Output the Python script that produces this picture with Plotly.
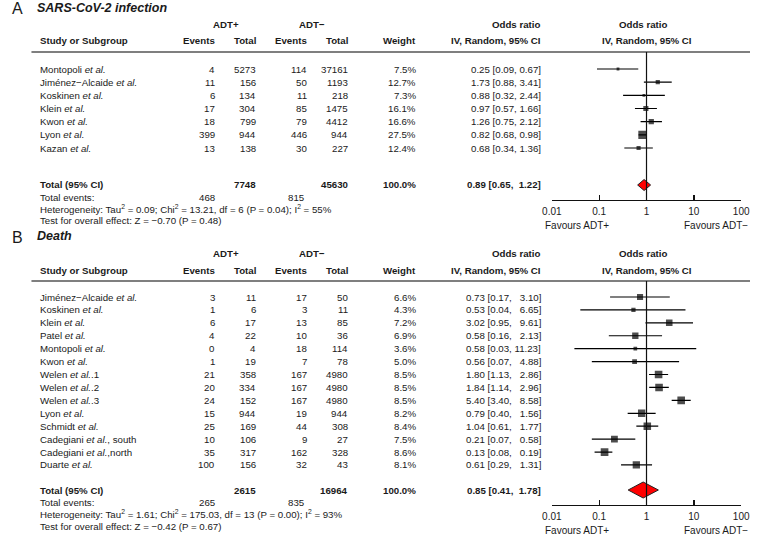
import plotly.graph_objects as go

W, H = 759, 560

# ---------------- Data: Panel A (SARS-CoV-2 infection) ----------------
studies_A = ["Montopoli <i>et al.</i>", "Jiménez−Alcaide <i>et al.</i>", "Koskinen <i>et al.</i>",
             "Klein <i>et al.</i>", "Kwon <i>et al.</i>", "Lyon <i>et al.</i>", "Kazan <i>et al.</i>"]
ev_pos_A = [4, 11, 6, 17, 18, 399, 13]
tot_pos_A = [5273, 156, 134, 304, 799, 944, 138]
ev_neg_A = [114, 50, 11, 85, 79, 446, 30]
tot_neg_A = [37161, 1193, 218, 1475, 4412, 944, 227]
weight_A = [7.5, 12.7, 7.3, 16.1, 16.6, 27.5, 12.4]
or_A = [0.25, 1.73, 0.88, 0.97, 1.26, 0.82, 0.68]
lo_A = [0.09, 0.88, 0.32, 0.57, 0.75, 0.68, 0.34]
hi_A = [0.67, 3.41, 2.44, 1.66, 2.12, 0.98, 1.36]
total_A = {"ev_pos": 468, "tot_pos": 7748, "ev_neg": 815, "tot_neg": 45630,
           "or": 0.89, "lo": 0.65, "hi": 1.22}
het_A = "Heterogeneity: Tau<sup>2</sup> = 0.09; Chi<sup>2</sup> = 13.21, df = 6 (P = 0.04); I<sup>2</sup> = 55%"
test_A = "Test for overall effect: Z = −0.70 (P = 0.48)"

# ---------------- Data: Panel B (Death) ----------------
studies_B = ["Jiménez−Alcaide <i>et al.</i>", "Koskinen <i>et al.</i>", "Klein <i>et al.</i>",
             "Patel <i>et al.</i>", "Montopoli <i>et al.</i>", "Kwon <i>et al.</i>",
             "Welen <i>et al.</i>.1", "Welen <i>et al.</i>.2", "Welen <i>et al.</i>.3",
             "Lyon <i>et al.</i>", "Schmidt <i>et al.</i>", "Cadegiani <i>et al.</i>, south",
             "Cadegiani <i>et al.</i>,north", "Duarte <i>et al.</i>"]
ev_pos_B = [3, 1, 6, 4, 0, 1, 21, 20, 24, 15, 25, 10, 35, 100]
tot_pos_B = [11, 6, 17, 22, 4, 19, 358, 334, 152, 944, 169, 106, 317, 156]
ev_neg_B = [17, 3, 13, 10, 18, 7, 167, 167, 167, 19, 44, 9, 162, 32]
tot_neg_B = [50, 11, 85, 36, 114, 78, 4980, 4980, 4980, 944, 308, 27, 328, 43]
weight_B = [6.6, 4.3, 7.2, 6.9, 3.6, 5.0, 8.5, 8.5, 8.5, 8.2, 8.4, 7.5, 8.6, 8.1]
or_B = [0.73, 0.53, 3.02, 0.58, 0.58, 0.56, 1.80, 1.84, 5.40, 0.79, 1.04, 0.21, 0.13, 0.61]
lo_B = [0.17, 0.04, 0.95, 0.16, 0.03, 0.07, 1.13, 1.14, 3.40, 0.40, 0.61, 0.07, 0.08, 0.29]
hi_B = [3.10, 6.65, 9.61, 2.13, 11.23, 4.88, 2.86, 2.96, 8.58, 1.56, 1.77, 0.58, 0.19, 1.31]
total_B = {"ev_pos": 265, "tot_pos": 2615, "ev_neg": 835, "tot_neg": 16964,
           "or": 0.85, "lo": 0.41, "hi": 1.78}
het_B = "Heterogeneity: Tau<sup>2</sup> = 1.61; Chi<sup>2</sup> = 175.03, df = 13 (P = 0.00); I<sup>2</sup> = 93%"
test_B = "Test for overall effect: Z = −0.42 (P = 0.67)"

axis_ticks = [0.01, 0.1, 1, 10, 100]
axis_ticktext = ["0.01", "0.1", "1", "10", "100"]

# ---------------- Layout geometry (pixels) ----------------
FONT = "Liberation Sans, Arial, sans-serif"
TXT = "#1a1a1a"
FS = 9.7
X_LABEL = 30
X_EVP, X_TOTP, X_EVN, X_TOTN, X_WT, X_OR = 211, 253, 306, 348, 417, 546
X_PLOT0, X_PLOT1 = 555.7, 750.0

panels = [
    dict(letter="A", title="SARS-CoV-2 infection", studies=studies_A, evp=ev_pos_A, totp=tot_pos_A,
         evn=ev_neg_A, totn=tot_neg_A, wt=weight_A, orr=or_A, lo=lo_A, hi=hi_A, tot=total_A,
         het=het_A, test=test_A, y_title=9, y_h1=25, y_h2=41, y_line=52, y_row0=69, step=13.17,
         y_total=185, y_axis=200, dia_h=11, sq=0.27, pad=False),
    dict(letter="B", title="Death", studies=studies_B, evp=ev_pos_B, totp=tot_pos_B,
         evn=ev_neg_B, totn=tot_neg_B, wt=weight_B, orr=or_B, lo=lo_B, hi=hi_B, tot=total_B,
         het=het_B, test=test_B, y_title=237, y_h1=254, y_h2=270, y_line=281, y_row0=297, step=12.92,
         y_total=490, y_axis=505, dia_h=16, sq=0.8, pad=True),
]

fig = go.Figure()
annotations = []
shapes = []


def ann(x, y, text, anchor="left", yref="paper", size=FS, bold=False, color=TXT):
    yy = 1 - y / H if yref == "paper" else y
    annotations.append(dict(x=x / W, y=yy, xref="paper", yref=yref, text=("<b>%s</b>" % text) if bold else text,
                            showarrow=False, xanchor=anchor, yanchor="middle", borderpad=0,
                            font=dict(family=FONT, size=size, color=color)))


def fmt_ci(o, l, h, pad):
    hs = ("%5.2f" % h).replace(" ", "\u00a0\u00a0") if pad else "%.2f" % h
    return "%.2f [%.2f, %s]" % (o, l, hs)


layout_axes = {}
for k, p in enumerate(panels):
    xa = "xaxis%d" % (k + 2)
    ya = "yaxis%d" % (k + 2)
    xr = "x%d" % (k + 2)
    yr = "y%d" % (k + 2)
    layout_axes[ya] = dict(domain=[1 - p["y_axis"] / H, 1 - p["y_line"] / H],
                           range=[p["y_axis"], p["y_line"]], visible=False, anchor=xr)
    layout_axes[xa] = dict(domain=[X_PLOT0 / W, X_PLOT1 / W], type="log", range=[-2.0005, 2.0005], anchor=yr,
                           showline=True, linecolor="#111", linewidth=1.3, ticks="inside", ticklen=5,
                           tickwidth=1.3, tickcolor="#111", tickvals=axis_ticks, ticktext=axis_ticktext,
                           showgrid=False, zeroline=False, fixedrange=True, ticklabelstandoff=2,
                           tickfont=dict(family=FONT, size=FS + 0.3, color=TXT))

    # Title
    ann(1, p["y_title"], p["letter"], size=16)
    ann(27, p["y_title"] - 1, "<b><i>%s</i></b>" % p["title"], size=12.5)

    # Headers
    ann((X_EVP + X_TOTP) / 2 - 10, p["y_h1"], "ADT+", anchor="center", bold=True)
    ann((X_EVN + X_TOTN) / 2 - 17, p["y_h1"], "ADT−", anchor="center", bold=True)
    ann(X_OR, p["y_h1"], "Odds ratio", anchor="right", bold=True)
    ann((X_PLOT0 + X_PLOT1) / 2 - 3, p["y_h1"], "Odds ratio", anchor="center", bold=True)
    ann(X_LABEL, p["y_h2"], "Study or Subgroup", bold=True)
    ann(X_EVP, p["y_h2"], "Events", anchor="right", bold=True)
    ann(X_TOTP, p["y_h2"], "Total", anchor="right", bold=True)
    ann(X_EVN, p["y_h2"], "Events", anchor="right", bold=True)
    ann(X_TOTN, p["y_h2"], "Total", anchor="right", bold=True)
    ann(X_WT, p["y_h2"], "Weight", anchor="right", bold=True)
    ann(X_OR, p["y_h2"], "IV, Random, 95% CI", anchor="right", bold=True)
    ann((X_PLOT0 + X_PLOT1) / 2, p["y_h2"], "IV, Random, 95% CI", anchor="center", bold=True)

    shapes.append(dict(type="line", xref="paper", yref="paper", x0=22 / W, x1=1.0,
                       y0=1 - p["y_line"] / H, y1=1 - p["y_line"] / H, line=dict(color="#555", width=1.5)))

    rows_y = [p["y_row0"] + i * p["step"] for i in range(len(p["studies"]))]
    for i, y in enumerate(rows_y):
        ann(X_LABEL, y, p["studies"][i], yref=yr)
        ann(X_EVP, y, str(p["evp"][i]), anchor="right", yref=yr)
        ann(X_TOTP, y, str(p["totp"][i]), anchor="right", yref=yr)
        ann(X_EVN, y, str(p["evn"][i]), anchor="right", yref=yr)
        ann(X_TOTN, y, str(p["totn"][i]), anchor="right", yref=yr)
        ann(X_WT, y, "%.1f%%" % p["wt"][i], anchor="right", yref=yr)
        ann(X_OR, y, fmt_ci(p["orr"][i], p["lo"][i], p["hi"][i], p["pad"]), anchor="right", yref=yr)

    # Study markers with CI
    fig.add_trace(go.Scatter(
        x=p["orr"], y=rows_y, mode="markers", xaxis=xr, yaxis=yr,
        marker=dict(symbol="square", color="black", size=[w * p["sq"] + 0.8 for w in p["wt"]],
                    line=dict(width=0)),
        error_x=dict(type="data", symmetric=False,
                     array=[h - o for h, o in zip(p["hi"], p["orr"])],
                     arrayminus=[o - l for o, l in zip(p["orr"], p["lo"])],
                     color="black", thickness=1.2, width=0),
        showlegend=False, hoverinfo="skip"))

    # Totals
    t = p["tot"]
    yt = p["y_total"]
    ann(X_LABEL, yt, "Total (95% CI)", bold=True)
    ann(X_TOTP, yt, str(t["tot_pos"]), anchor="right", bold=True)
    ann(X_TOTN, yt, str(t["tot_neg"]), anchor="right", bold=True)
    ann(X_WT, yt, "100.0%", anchor="right", bold=True)
    ann(X_OR, yt, "%.2f [%.2f, \u00a0%.2f]" % (t["or"], t["lo"], t["hi"]), anchor="right", bold=True)
    ann(X_LABEL, yt + 12, "Total events:")
    ann(X_EVP, yt + 12, str(t["ev_pos"]), anchor="right")
    ann(X_EVN - 3, yt + 12, str(t["ev_neg"]), anchor="right")
    ann(X_LABEL, yt + 24, p["het"])
    ann(X_LABEL, yt + 36, p["test"])

    # Diamond
    hh = p["dia_h"] / 2
    fig.add_trace(go.Scatter(
        x=[t["lo"], t["or"], t["hi"], t["or"], t["lo"]],
        y=[yt, yt - hh, yt, yt + hh, yt], mode="lines", fill="toself",
        fillcolor="#ff0000", line=dict(color="#222", width=1), xaxis=xr, yaxis=yr,
        showlegend=False, hoverinfo="skip"))

    # Line of no effect
    shapes.append(dict(type="line", xref=xr, yref=yr, x0=1, x1=1, y0=p["y_line"], y1=p["y_axis"],
                       line=dict(color="#111", width=1.2)))

    # Favours labels
    ann(548, p["y_axis"] + 25, "Favours ADT+", size=FS + 0.3)
    ann(758, p["y_axis"] + 25, "Favours ADT−", anchor="right", size=FS + 0.3)

fig.update_layout(
    width=W, height=H, margin=dict(l=0, r=0, t=0, b=0),
    paper_bgcolor="white", plot_bgcolor="white",
    xaxis=dict(visible=False), yaxis=dict(visible=False),
    annotations=annotations, shapes=shapes, showlegend=False,
    **layout_axes)

fig.write_html("out.html", config={"displayModeBar": False, "staticPlot": True},
               post_script="document.body.style.margin='0';document.body.style.overflow='hidden';")
